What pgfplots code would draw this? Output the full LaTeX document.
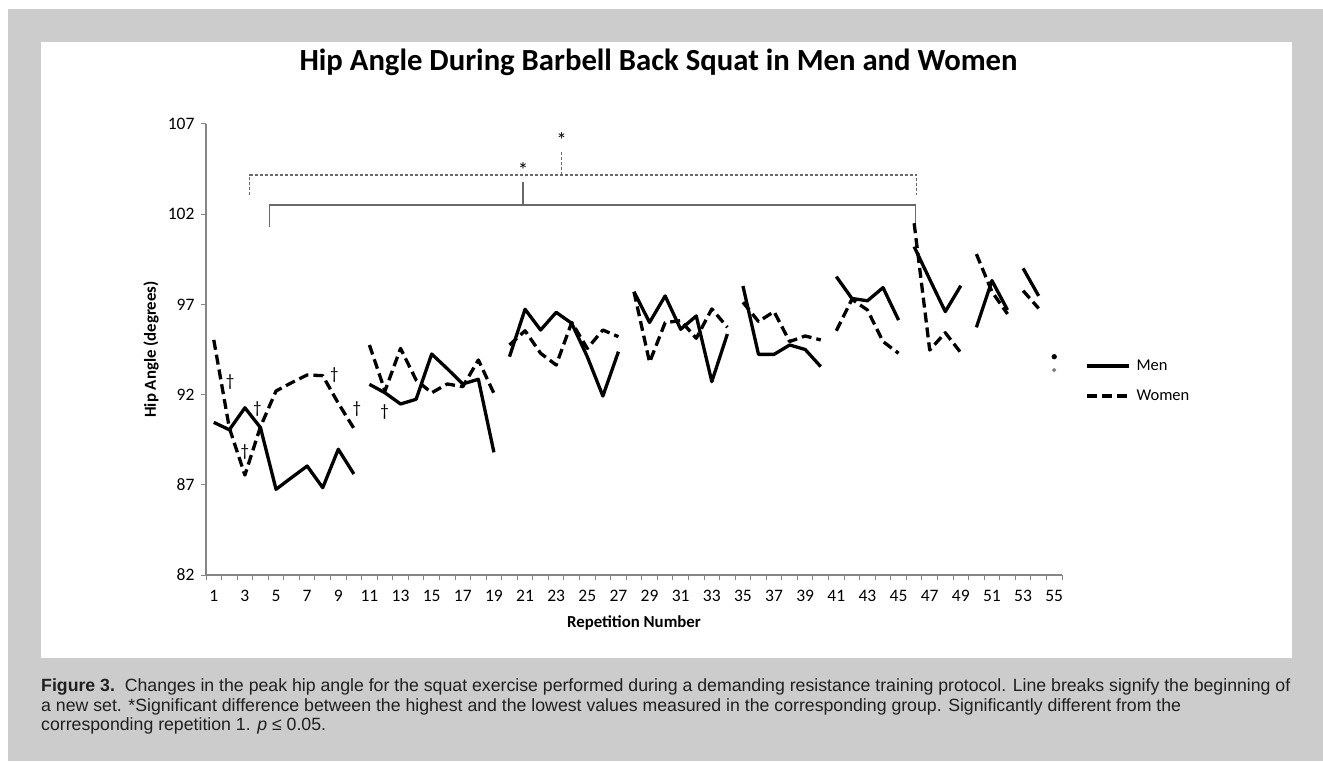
\documentclass[border=0pt]{standalone}
\usepackage{fontspec}
\usepackage{pgfplots}
\usepackage{pgfplotstable}
\pgfplotsset{compat=1.18}
\setmainfont{Carlito}
\newfontfamily\capfont{Liberation Sans}
\definecolor{bggray}{RGB}{204,204,204}
\definecolor{axisgray}{RGB}{134,134,134}
\definecolor{brgray}{RGB}{105,105,105}

\pgfplotstableread{
rep men women
1 90.46 95.03
2 90.05 90.15
3 91.27 87.54
4 90.17 90.22
5 86.75 92.20
6 87.40 92.66
7 88.04 93.09
8 86.84 93.05
9 88.97 91.52
10 87.60 90.13
10.5 nan nan
11 92.57 94.75
12 92.10 92.20
13 91.48 94.56
14 91.74 92.81
15 94.25 92.10
16 93.44 92.59
17 92.59 92.44
18 92.85 93.92
19 88.80 92.07
19.5 nan nan
20 94.10 94.75
21 96.73 95.54
22 95.58 94.29
23 96.56 93.64
24 95.95 96.00
25 94.10 94.56
26 91.92 95.58
27 94.38 95.21
27.5 nan nan
28 97.70 97.70
29 96.00 93.79
30 97.47 95.99
31 95.62 96.10
32 96.36 95.12
33 92.72 96.75
34 95.36 95.73
34.5 nan nan
35 98.02 97.12
36 94.23 96.05
37 94.23 96.60
38 94.75 94.94
39 94.50 95.25
40 93.55 95.03
40.5 nan nan
41 98.54 95.54
42 97.33 97.28
43 97.20 96.69
44 97.93 94.94
45 96.13 94.29
45.5 nan nan
46 100.20 101.50
47 98.39 94.47
48 96.60 95.43
49 98.04 94.32
49.5 nan nan
50 95.73 99.79
51 98.32 97.70
52 96.69 96.47
52.5 nan nan
53 99.00 97.76
54 97.47 96.78
}\hipdata

\pgfplotstableread{
rep men women
55 94.10 93.36
}\lastrep

\begin{document}
\begin{tikzpicture}[x=1pt,y=1pt]
\useasboundingbox (0,0) rectangle (1323,761);
\fill[white] (0,0) rectangle (1323,761);
\fill[bggray] (8,0) rectangle (1323,752);
\fill[white] (41,103) rectangle (1292,719);
\coordinate (axpos) at (206,186);
\node[font=\bfseries\fontsize{30.7}{36}\selectfont, anchor=base] at (658.5,690) {Hip Angle During Barbell Back Squat in Men and Women};
\begin{axis}[
  at={(axpos)}, anchor=south west,
  scale only axis, width=856pt, height=451pt,
  xmin=0.5, xmax=55.5, ymin=82, ymax=107,
  axis lines=left,
  axis line style={draw=axisgray, line width=1.4pt, -},
  xtick={0.5,1.5,...,55.5},
  xticklabels={1,,3,,5,,7,,9,,11,,13,,15,,17,,19,,21,,23,,25,,27,,29,,31,,33,,35,,37,,39,,41,,43,,45,,47,,49,,51,,53,,55,},
  ytick={82,87,...,107},
  tick align=outside,
  major tick length=5pt,
  tick style={draw=axisgray, line width=1pt},
  ticklabel style={font=\fontsize{17.5}{20}\selectfont, text=black},
  xticklabel style={xshift=7.78pt, yshift=-7pt},
  yticklabel style={xshift=-3pt},
  xlabel={Repetition Number},
  ylabel={Hip Angle (degrees)},
  xlabel style={at={(axis description cs:0.5,-0.1064)}, anchor=center, font=\bfseries\fontsize{16.8}{20}\selectfont},
  ylabel style={at={(axis description cs:-0.0643,0.5)}, anchor=center, font=\bfseries\fontsize{16.8}{20}\selectfont},
  /pgf/number format/assume math mode=true,
  unbounded coords=jump,
  clip=false,
  legend style={at={(axis description cs:1.027,0.43)}, anchor=west, draw=none, fill=none,
    font=\fontsize{16.5}{19}\selectfont, row sep=16pt, column sep=5pt, inner sep=0pt,
    nodes={inner sep=1pt}},
  legend cell align=left,
  legend image code/.code={\draw[#1] (0pt,0pt) -- (42pt,0pt);},
]
\addplot[black, line width=3.3pt, line join=round] table[x=rep, y=men] {\hipdata};
\addlegendentry{Men}
\addplot[black, line width=3.3pt, dash pattern=on 10pt off 5pt, line join=round] table[x=rep, y=women] {\hipdata};
\addlegendentry{Women}
\addplot[only marks, mark=*, mark size=2.4pt, black, forget plot] table[x=rep, y=men] {\lastrep};
\addplot[only marks, mark=*, mark size=1.9pt, color=gray, forget plot] table[x=rep, y=women] {\lastrep};

% significance brackets
\draw[brgray, line width=1.2pt, dash pattern=on 3pt off 2pt]
  (axis cs:3.3,103.06) -- (axis cs:3.3,104.17) -- (axis cs:46.13,104.17) -- (axis cs:46.13,103.06);
\draw[brgray, line width=1.2pt, dash pattern=on 3pt off 2pt]
  (axis cs:23.33,104.17) -- (axis cs:23.33,105.47);
\draw[brgray, line width=1.3pt]
  (axis cs:4.59,101.27) -- (axis cs:4.59,102.51) -- (axis cs:46.1,102.51) -- (axis cs:46.1,101.5);
\draw[brgray, line width=1.3pt]
  (axis cs:20.87,102.51) -- (axis cs:20.87,103.8);
\node[font=\fontsize{21}{22}\selectfont, anchor=center] at (axis cs:23.35,106.1) {*};
\node[font=\fontsize{21}{22}\selectfont, anchor=center] at (axis cs:20.87,104.43) {*};
% daggers
\node[font=\fontsize{17}{18}\selectfont] at (axis cs:2.05,92.72) {\textdagger};
\node[font=\fontsize{17}{18}\selectfont] at (axis cs:3.8,91.18) {\textdagger};
\node[font=\fontsize{17}{18}\selectfont] at (axis cs:3.0,88.84) {\textdagger};
\node[font=\fontsize{17}{18}\selectfont] at (axis cs:8.74,93.09) {\textdagger};
\node[font=\fontsize{17}{18}\selectfont] at (axis cs:10.2,91.18) {\textdagger};
\node[font=\fontsize{17}{18}\selectfont] at (axis cs:11.98,91.05) {\textdagger};
\end{axis}
\begin{scope}[every node/.style={anchor=base west, inner sep=0pt, font=\capfont\fontsize{17.7}{21}\selectfont, text=black!88}]
\node at (41,69.3) {\textbf{Figure 3.}\ \ Changes in the peak hip angle for the squat exercise performed during a demanding resistance training protocol. Line breaks signify the beginning of};
\node at (41,50) {a new set. *Significant difference between the highest and the lowest values measured in the corresponding group. Significantly different from the};
\node at (41,31) {corresponding repetition 1. \textit{p} ≤ 0.05.};
\end{scope}
\end{tikzpicture}
\end{document}
